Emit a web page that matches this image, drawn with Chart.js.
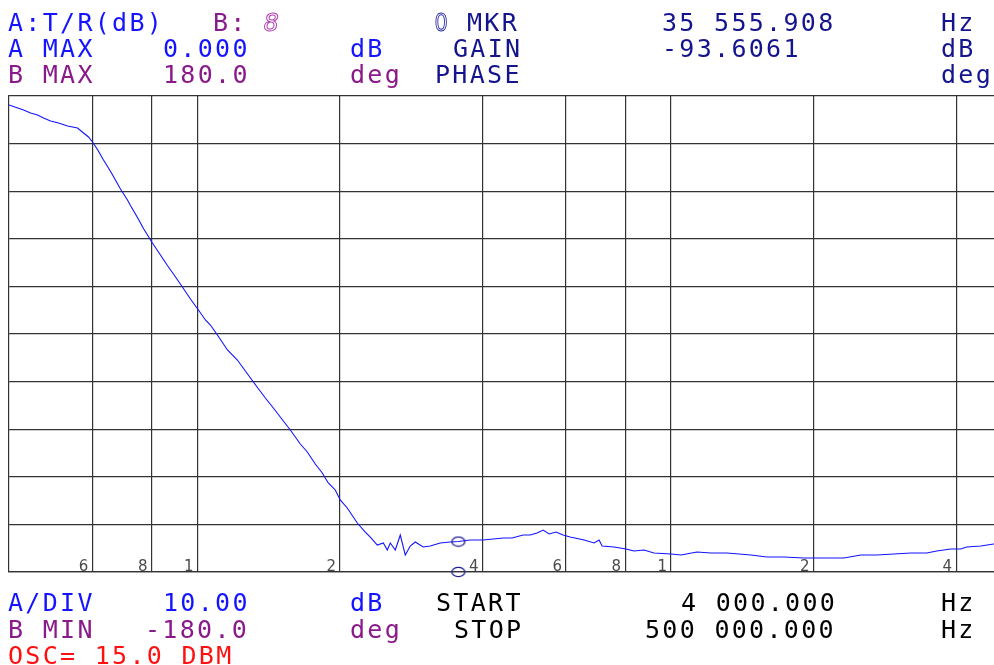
<!DOCTYPE html>
<html>
<head>
<meta charset="utf-8">
<title>T/R sweep 4 kHz – 500 kHz</title>
<script src="https://cdn.jsdelivr.net/npm/chart.js@4/dist/chart.umd.min.js"></script>
<style>
  html, body { margin: 0; padding: 0; background: #fff; overflow: hidden; width: 994px; height: 665px; }
  #wrap { position: absolute; left: 0; top: 0; width: 1010px; height: 665px; }
  .t { position: absolute; font-family: "DejaVu Sans Mono", monospace; font-size: 25px; line-height: 25px;
       letter-spacing: 2.3px; white-space: pre; }
  .blue { color: #1414ff; }
  .purple { color: #8a1a8a; }
  .navy { color: #14148c; }
  .black { color: #000; }
  .red { color: #ff1010; }
  .hollow8 { color: transparent; -webkit-text-stroke: 1px #b040b0; font-style: italic; }
  .hollow0 { font-family: "Liberation Sans", sans-serif; font-size: 26px; line-height: 26px; letter-spacing: 0;
             color: transparent; -webkit-text-stroke: 1px #2a2aa0; transform: scaleX(0.85); transform-origin: left top; }
</style>
</head>
<body>
<div id="wrap"><canvas id="c" width="1010" height="665"></canvas></div>

<!-- header -->
<div class="t blue" style="left:8px;top:10px">A:T/R(dB)</div>
<div class="t purple" style="left:213px;top:10px">B:</div>
<div class="t hollow8" style="left:264px;top:10px">8</div>
<div class="t hollow0" style="left:435px;top:9px">0</div>
<div class="t navy" style="left:467px;top:10px">MKR</div>
<div class="t navy" style="left:662px;top:10px">35 555.908</div>
<div class="t navy" style="left:941px;top:10px">Hz</div>

<div class="t blue" style="left:8px;top:36px">A MAX</div>
<div class="t blue" style="left:163px;top:36px">0.000</div>
<div class="t blue" style="left:350px;top:36px">dB</div>
<div class="t navy" style="left:453px;top:36px">GAIN</div>
<div class="t navy" style="left:662px;top:36px">-93.6061</div>
<div class="t navy" style="left:941px;top:36px">dB</div>

<div class="t purple" style="left:8px;top:62px">B MAX</div>
<div class="t purple" style="left:163px;top:62px">180.0</div>
<div class="t purple" style="left:350px;top:62px">deg</div>
<div class="t navy" style="left:435px;top:62px">PHASE</div>
<div class="t navy" style="left:941px;top:62px">deg</div>

<!-- footer -->
<div class="t blue" style="left:8px;top:590px">A/DIV</div>
<div class="t blue" style="left:163px;top:590px">10.00</div>
<div class="t blue" style="left:350px;top:590px">dB</div>
<div class="t black" style="left:436px;top:590px">START</div>
<div class="t black" style="left:681px;top:590px">4 000.000</div>
<div class="t black" style="left:941px;top:590px">Hz</div>

<div class="t purple" style="left:8px;top:617px">B MIN</div>
<div class="t purple" style="left:145px;top:617px">-180.0</div>
<div class="t purple" style="left:350px;top:617px">deg</div>
<div class="t black" style="left:454px;top:617px">STOP</div>
<div class="t black" style="left:645px;top:617px">500 000.000</div>
<div class="t black" style="left:941px;top:617px">Hz</div>

<div class="t red" style="left:8px;top:643px">OSC= 15.0 DBM</div>

<script>
// Swept transmission T/R, 4 kHz .. 500 kHz, log frequency axis
const startHz = 4000;
const stopHz = 500000;
const dbMax = 0;
const dbMin = -100;
const dbPerDiv = 10;

const freqHz = [4000, 4130, 4294, 4443, 4596, 4732, 4896, 5090, 5317, 5582, 5747, 5888, 6003, 6151, 6333,
  6488, 6648, 6878, 7116, 7220, 7470, 7691, 8035, 8353, 8642, 8898, 9295, 9666, 10049, 10396, 10652, 11019,
  11572, 12143, 12624, 13125, 13913, 14464, 15183, 15708, 16490, 17060, 17736, 18350, 18892, 19545, 20025,
  20718, 21757, 22619, 23175, 23976, 24687, 25171, 25540, 26168, 26811, 27470, 28145, 28836, 29979, 31016,
  32562, 34184, 35555.908, 37670, 40122, 42120, 44216, 46192, 48725, 50410, 52154, 53696, 55284, 57197,
  59175, 61222, 65546, 68803, 70494, 71530, 75818, 80360, 83540, 87694, 92063, 100000, 104980, 113450,
  121450, 131250, 147510, 159400, 173130, 190850, 200000, 231750, 251710, 272020, 295410, 320860, 346810,
  364100, 389670, 409150, 421230, 450880, 480260, 500000];

const gainDb = [-1.89, -2.37, -2.94, -3.57, -3.99, -4.62, -5.25, -5.67, -6.30, -6.72, -7.77, -8.61, -9.66,
  -11.24, -13.45, -15.13, -16.91, -19.54, -21.85, -23.00, -25.53, -27.84, -30.88, -33.40, -35.61, -37.39,
  -40.13, -42.65, -44.96, -47.06, -48.11, -50.21, -53.36, -55.46, -57.77, -60.08, -63.45, -65.55, -68.28,
  -70.17, -73.11, -74.79, -77.31, -79.20, -81.30, -82.77, -84.87, -86.55, -89.71, -91.60, -92.65, -94.33,
  -93.91, -95.38, -93.91, -95.38, -92.23, -96.43, -94.54, -93.70, -94.75, -94.54, -93.91, -93.70, -93.6061,
  -93.28, -93.28, -93.07, -92.86, -92.86, -92.23, -92.23, -91.81, -91.18, -92.02, -91.60, -92.23, -92.65,
  -93.28, -93.91, -93.28, -94.54, -94.75, -95.17, -95.59, -95.38, -96.01, -96.22, -96.43, -95.80, -96.01,
  -96.01, -96.43, -96.85, -96.85, -97.06, -97.06, -97.06, -96.43, -96.43, -96.22, -96.01, -96.01, -95.59,
  -95.17, -95.17, -94.75, -94.54, -94.12, -94.00];

// vertical graticule lines and the digit printed beside each
const gridFreqs = [6000, 8000, 10000, 20000, 40000, 60000, 80000, 100000, 200000, 400000];
const gridLabels = ['6', '8', '1', '2', '4', '6', '8', '1', '2', '4'];

// marker 0
const markerHz = 35555.908;
const markerDb = -93.6061;

// hollow ellipse used for the marker symbol
function ellipseSymbol() {
  const cv = document.createElement('canvas');
  cv.width = 16; cv.height = 12;
  const g = cv.getContext('2d');
  g.strokeStyle = '#1c1c90';
  g.lineWidth = 1.3;
  g.beginPath();
  g.ellipse(8, 6, 6.5, 4.6, 0, 0, Math.PI * 2);
  g.stroke();
  return cv;
}
const markSym = ellipseSymbol();

const gridDigits = {
  id: 'gridDigits',
  beforeDatasetsDraw(chart) {
    const { ctx, chartArea, scales } = chart;
    ctx.save();
    ctx.font = '15px "DejaVu Sans", sans-serif';
    ctx.fillStyle = '#4a4a4a';
    ctx.textAlign = 'right';
    ctx.textBaseline = 'alphabetic';
    gridFreqs.forEach((f, i) => {
      const x = scales.x.getPixelForValue(f);
      ctx.fillText(gridLabels[i], x - 4, chartArea.bottom - 1);
    });
    ctx.restore();
  }
};

new Chart(document.getElementById('c'), {
  type: 'line',
  data: {
    datasets: [
      {
        label: 'T/R',
        data: freqHz.map((f, i) => ({ x: f, y: gainDb[i] })),
        borderColor: '#1212ff',
        borderWidth: 1.1,
        pointRadius: 0,
        tension: 0,
        order: 2
      },
      {
        label: 'marker',
        data: [{ x: markerHz, y: markerDb }, { x: markerHz, y: dbMin }],
        showLine: false,
        pointStyle: markSym,
        pointRadius: 6,
        clip: false,
        order: 1
      }
    ]
  },
  options: {
    responsive: false,
    animation: false,
    devicePixelRatio: 1,
    layout: { padding: { left: 9, top: 96, right: 8, bottom: 93 } },
    plugins: { legend: { display: false }, tooltip: { enabled: false } },
    scales: {
      x: {
        type: 'logarithmic',
        min: startHz,
        max: stopHz,
        afterBuildTicks: s => { s.ticks = gridFreqs.map(v => ({ value: v })); },
        ticks: { display: false },
        grid: { color: '#333', lineWidth: 1.2, drawTicks: false },
        border: { display: true, color: '#333', width: 1.2 }
      },
      y: {
        type: 'linear',
        min: dbMin,
        max: dbMax,
        ticks: { display: false, stepSize: dbPerDiv },
        grid: { color: '#333', lineWidth: 1.2, drawTicks: false },
        border: { display: true, color: '#333', width: 1.2 }
      }
    }
  },
  plugins: [gridDigits]
});
</script>
</body>
</html>
